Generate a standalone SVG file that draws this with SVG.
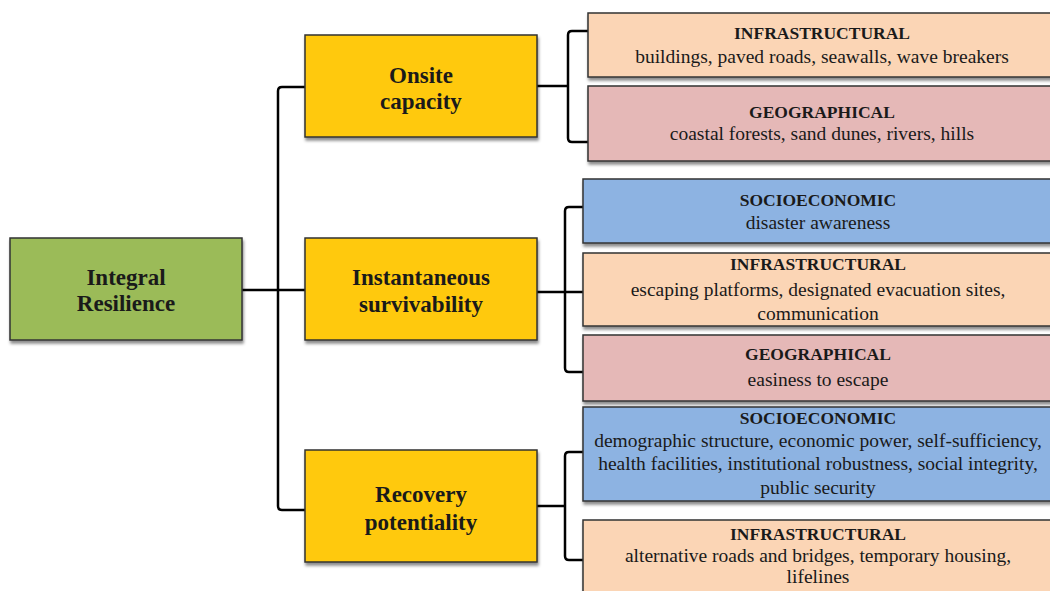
<svg xmlns="http://www.w3.org/2000/svg" width="1050" height="591" viewBox="0 0 1050 591">
<defs>
<filter id="sh" x="-5%" y="-10%" width="115%" height="130%">
<feDropShadow dx="1" dy="3" stdDeviation="1.5" flood-color="#000" flood-opacity="0.45"/>
</filter>
</defs>
<style>
.box{stroke:#333;stroke-width:1.5;filter:url(#sh)}
.green{fill:#9BBB59}
.yellow{fill:#FFC90A}
.peach{fill:#FBD5B5}
.pink{fill:#E5B8B7}
.blue{fill:#8DB3E2}
.t1{font-family:"Liberation Serif",serif;font-weight:bold;font-size:23px;fill:#1a1a1a;text-anchor:middle}
.h{font-family:"Liberation Serif",serif;font-weight:bold;font-size:17.5px;fill:#1a1a1a;text-anchor:middle}
.b{font-family:"Liberation Serif",serif;font-size:19.5px;fill:#1a1a1a;text-anchor:middle}
.c{fill:none;stroke:#000;stroke-width:2.5;stroke-linejoin:round}
</style>
<rect width="1050" height="591" fill="#fff"/>
<g id="connectors">
<path class="c" d="M242 290 H305"/>
<path class="c" d="M305 87 H282 Q278 87 278 91 V506 Q278 510 282 510 H305"/>
<path class="c" d="M537 86 H568"/>
<path class="c" d="M588 31 H572 Q568 31 568 35 V138 Q568 142 572 142 H588"/>
<path class="c" d="M537 292 H583"/>
<path class="c" d="M583 207 H569 Q565 207 565 211 V368 Q565 372 569 372 H583"/>
<path class="c" d="M537 506 H565"/>
<path class="c" d="M583 452 H569 Q565 452 565 456 V556 Q565 560 569 560 H583"/>
</g>
<g id="integral">
<rect class="box green" x="10" y="238" width="232" height="102"/>
<text class="t1" x="126" y="285">Integral</text>
<text class="t1" x="126" y="311">Resilience</text>
</g>
<g id="onsite">
<rect class="box yellow" x="305" y="35" width="232" height="102"/>
<text class="t1" x="421" y="83">Onsite</text>
<text class="t1" x="421" y="109">capacity</text>
</g>
<g id="instantaneous">
<rect class="box yellow" x="305" y="238" width="232" height="102"/>
<text class="t1" x="421" y="285">Instantaneous</text>
<text class="t1" x="421" y="312">survivability</text>
</g>
<g id="recovery">
<rect class="box yellow" x="305" y="450" width="232" height="112"/>
<text class="t1" x="421" y="502">Recovery</text>
<text class="t1" x="421" y="530">potentiality</text>
</g>
<g id="onsite-infra">
<rect class="box peach" x="588" y="13" width="470" height="64"/>
<text class="h" x="822" y="39">INFRASTRUCTURAL</text>
<text class="b" x="822" y="63">buildings,  paved roads, seawalls, wave breakers</text>
</g>
<g id="onsite-geo">
<rect class="box pink" x="588" y="86" width="470" height="75"/>
<text class="h" x="822" y="118">GEOGRAPHICAL</text>
<text class="b" x="822" y="140">coastal forests, sand dunes, rivers, hills</text>
</g>
<g id="inst-socio">
<rect class="box blue" x="583" y="179" width="475" height="64"/>
<text class="h" x="818" y="206">SOCIOECONOMIC</text>
<text class="b" x="818" y="229">disaster awareness</text>
</g>
<g id="inst-infra">
<rect class="box peach" x="583" y="253" width="475" height="73"/>
<text class="h" x="818" y="270">INFRASTRUCTURAL</text>
<text class="b" x="818" y="296">escaping platforms, designated evacuation sites,</text>
<text class="b" x="818" y="320">communication</text>
</g>
<g id="inst-geo">
<rect class="box pink" x="583" y="335" width="475" height="66"/>
<text class="h" x="818" y="360">GEOGRAPHICAL</text>
<text class="b" x="818" y="386">easiness to escape</text>
</g>
<g id="rec-socio">
<rect class="box blue" x="583" y="407" width="475" height="94"/>
<text class="h" x="818" y="424">SOCIOECONOMIC</text>
<text class="b" x="818" y="447">demographic structure, economic power, self-sufficiency,</text>
<text class="b" x="818" y="470">health facilities, institutional robustness, social integrity,</text>
<text class="b" x="818" y="494">public security</text>
</g>
<g id="rec-infra">
<rect class="box peach" x="583" y="520" width="475" height="80"/>
<text class="h" x="818" y="540">INFRASTRUCTURAL</text>
<text class="b" x="818" y="562">alternative roads and bridges, temporary housing,</text>
<text class="b" x="818" y="583">lifelines</text>
</g>
</svg>
